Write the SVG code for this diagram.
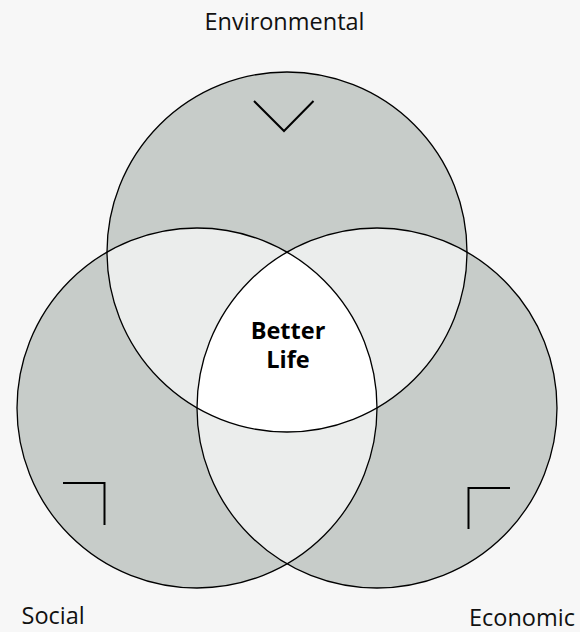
<svg xmlns="http://www.w3.org/2000/svg" width="580" height="632" viewBox="0 0 580 632">
  <style>
    .fill { fill: #c7ccc9; }
    .pair { fill: #ebedec; }
    .core { fill: #ffffff; }
    .outline { fill: none; stroke: #000; stroke-width: 1.3; }
    .mark { fill: none; stroke: #000; stroke-width: 2; }
    .label { font-family: "Open Sans", "Noto Sans", sans-serif; font-size: 23.5px; fill: #111; }
    .center { font-family: "Open Sans", "Noto Sans", sans-serif; font-size: 23.5px; font-weight: bold; fill: #000; text-anchor: middle; }
  </style>
  <defs>
    <clipPath id="cTop"><circle cx="287" cy="252" r="180"/></clipPath>
    <clipPath id="cLeft"><circle cx="197" cy="408" r="180"/></clipPath>
    <clipPath id="cRight"><circle cx="377" cy="408" r="180"/></clipPath>
  </defs>
  <rect width="580" height="632" fill="#f7f7f7"/>

  <g id="fills">
    <circle class="fill" cx="287" cy="252" r="180"/>
    <circle class="fill" cx="197" cy="408" r="180"/>
    <circle class="fill" cx="377" cy="408" r="180"/>
    <circle class="pair" cx="197" cy="408" r="180" clip-path="url(#cTop)"/>
    <circle class="pair" cx="377" cy="408" r="180" clip-path="url(#cTop)"/>
    <circle class="pair" cx="377" cy="408" r="180" clip-path="url(#cLeft)"/>
    <g clip-path="url(#cTop)">
      <circle class="core" cx="197" cy="408" r="180" clip-path="url(#cRight)"/>
    </g>
  </g>

  <g id="environmental">
    <circle class="outline" cx="287" cy="252" r="180"/>
    <polyline class="mark" points="254,101 284,131 313.5,101"/>
    <text class="label" x="284.5" y="30" text-anchor="middle">Environmental</text>
  </g>
  <g id="social">
    <circle class="outline" cx="197" cy="408" r="180"/>
    <polyline class="mark" points="63,483 104.5,483 104.5,525"/>
    <text class="label" x="21.5" y="624">Social</text>
  </g>
  <g id="economic">
    <circle class="outline" cx="377" cy="408" r="180"/>
    <polyline class="mark" points="468.5,529 468.5,488 510,488"/>
    <text class="label" x="469" y="625.5">Economic</text>
  </g>
  <g id="better-life">
    <text class="center" x="288" y="339">Better</text>
    <text class="center" x="288" y="368">Life</text>
  </g>
</svg>
